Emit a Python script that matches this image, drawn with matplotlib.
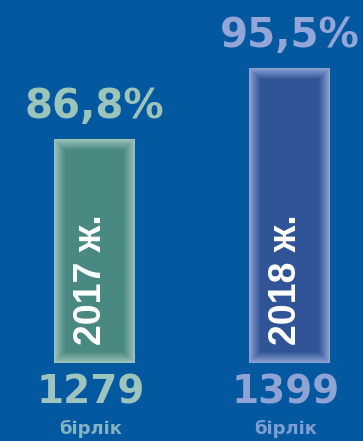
import matplotlib
matplotlib.use("Agg")
import matplotlib.pyplot as plt
from matplotlib.patches import Rectangle

# data
years = ["2017 ж.", "2018 ж."]
units = [1279, 1399]
shares = ["86,8%", "95,5%"]
unit_word = "бірлік"

# colours per bar
core_cols = ["#4A8982", "#305497"]
glow_cols = ["#9CC3B8", "#8CA2D5"]
share_cols = ["#9CC4BA", "#93A6D8"]
unit_cols = ["#9DC5BE", "#8FA3D5"]
word_cols = ["#84B3C2", "#7F9DD2"]
bg = "#0358A0"

W, H, DPI = 363, 441, 100
fig = plt.figure(figsize=(W / DPI, H / DPI), dpi=DPI, facecolor=bg)
ax = fig.add_axes([0, 78 / H, 1, 363 / H])
ax.set_facecolor(bg)
ax.set_xlim(-0.485, 1.377)
ax.set_ylim(900, 1513.5)
ax.axis("off")

bar_w = 0.415
base = 900

# pixel size in data units, used for the soft inner edge
px_x = (1.377 + 0.485) / W
px_y = (1513.5 - 900) / 363
n_glow = 11

for i, v in enumerate(units):
    x0 = i - bar_w / 2
    ax.add_patch(Rectangle((x0, base), bar_w, v - base, color=glow_cols[i], lw=0))
    # linear fade from the light edge into the core colour
    for j in range(1, n_glow + 1):
        dx, dy = j * px_x, j * px_y
        ax.add_patch(Rectangle((x0 + dx, base + dy), bar_w - 2 * dx, v - base - 2 * dy,
                               color=core_cols[i], alpha=1 / (n_glow - j + 1), lw=0))

    # share above the bar
    ax.annotate(shares[i], (i, v), xytext=(0, 15), textcoords="offset points",
                ha="center", va="baseline", fontsize=29, fontweight="bold",
                color=share_cols[i], family="DejaVu Sans")
    # year inside the bar
    ax.annotate(years[i], (i, base), xytext=(-2.5, 60), textcoords="offset points",
                ha="center", va="center", rotation=90, fontsize=27,
                fontweight="bold", color="white", family="Liberation Sans")
    # count and word below
    ax.annotate(str(v), (i, base), xytext=(-3, -21.5), textcoords="offset points",
                ha="center", va="center", fontsize=28, fontweight="bold",
                color=unit_cols[i], family="DejaVu Sans", annotation_clip=False)
    ax.annotate(unit_word, (i, base), xytext=(-3, -51), textcoords="offset points",
                ha="center", va="baseline", fontsize=13, fontweight="bold",
                color=word_cols[i], family="DejaVu Sans", annotation_clip=False)

fig.savefig("out.png", dpi=DPI, facecolor=bg)
